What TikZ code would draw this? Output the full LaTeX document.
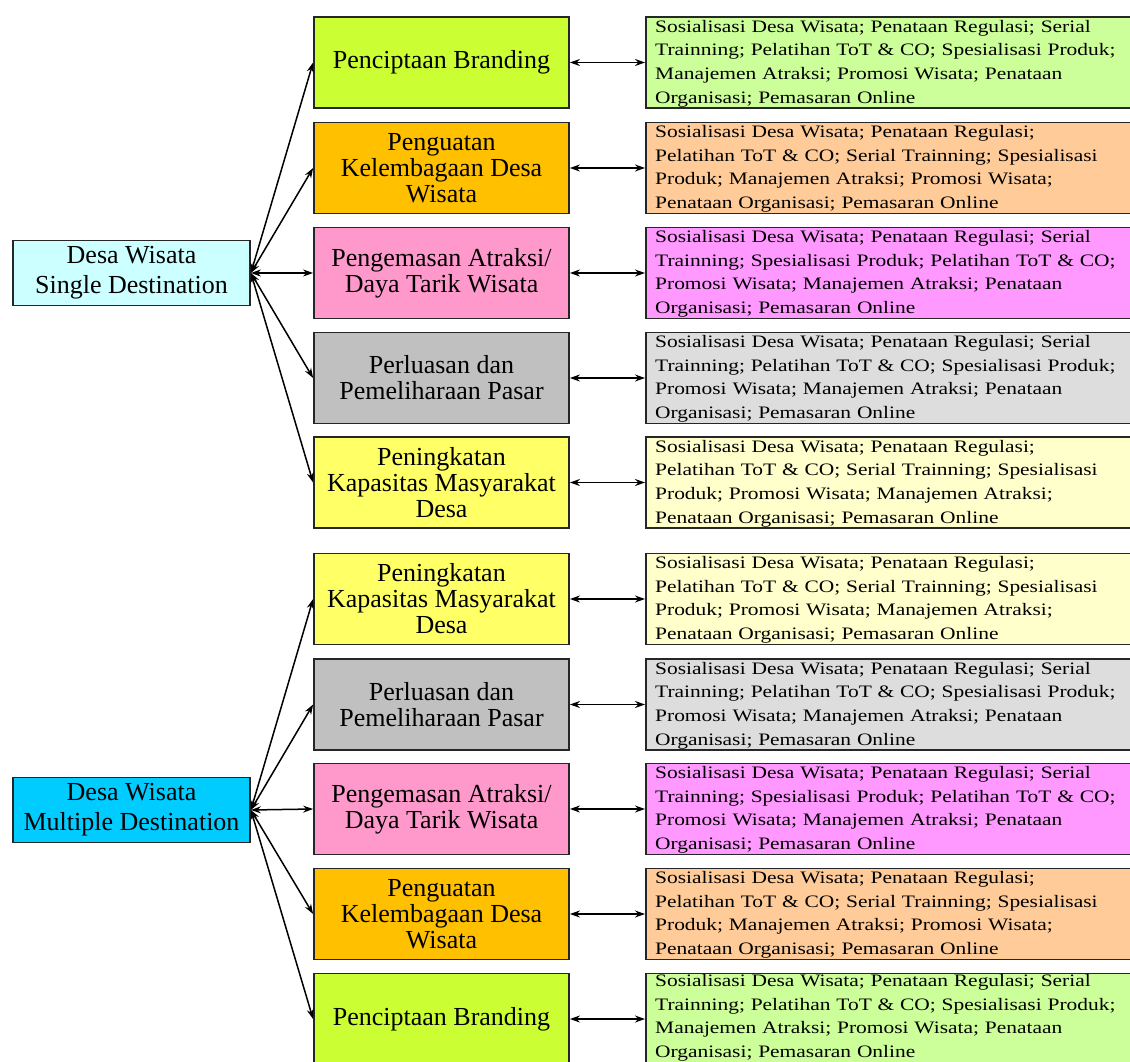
\documentclass[tikz,border=0pt]{standalone}
\usepackage{fontspec}
\setmainfont{Liberation Serif}
\newfontfamily\actfont[FakeStretch=1.225]{Liberation Serif}
\usetikzlibrary{arrows.meta}
\definecolor{brandM}{HTML}{CCFF33}
\definecolor{brandR}{HTML}{CCFF99}
\definecolor{kuatM}{HTML}{FFC000}
\definecolor{kuatR}{HTML}{FFCC99}
\definecolor{kemasM}{HTML}{FF99CC}
\definecolor{kemasR}{HTML}{FF99FF}
\definecolor{luasM}{HTML}{C0C0C0}
\definecolor{luasR}{HTML}{DDDDDD}
\definecolor{tingM}{HTML}{FFFF66}
\definecolor{tingR}{HTML}{FFFFCC}
\definecolor{singleC}{HTML}{CCFFFF}
\definecolor{multiC}{HTML}{00CCFF}
\begin{document}
\begin{tikzpicture}[x=1pt,y=-1pt,
  box/.style={draw=black!85, line width=1.8pt, inner sep=0pt},
  srcbox/.style={box, minimum width=237pt, minimum height=65pt, align=center,
    font=\fontsize{26}{30}\selectfont},
  midbox/.style={box, minimum width=255pt, minimum height=91pt, align=center,
    font=\fontsize{26}{26}\selectfont},
  actbox/.style={box, anchor=west, minimum width=495pt, minimum height=91pt},
  acttext/.style={anchor=west, xshift=10pt, yshift=-1pt, inner sep=0pt, text width=478pt,
    align=left, font=\actfont\fontsize{17.5}{23.6}\selectfont},
  link/.style={{Stealth[length=10pt,width=7pt]}-{Stealth[length=10pt,width=7pt]}, line width=1.5pt}
]
\useasboundingbox (0,0) rectangle (1130,1062);
\fill[white] (0,0) rectangle (1130,1062);

% sources
\node[srcbox, fill=singleC] (s1) at (131.5,273) {Desa Wisata\\Single Destination};
\node[srcbox, fill=multiC] (s2) at (131.5,810) {Desa Wisata\\Multiple Destination};

% top group middle boxes
\node[midbox, fill=brandM] (a1) at (441.5,62.5) {Penciptaan Branding};
\node[midbox, fill=kuatM] (a2) at (441.5,168) {Penguatan\\Kelembagaan Desa\\Wisata};
\node[midbox, fill=kemasM] (a3) at (441.5,273) {Pengemasan Atraksi/\\Daya Tarik Wisata};
\node[midbox, fill=luasM] (a4) at (441.5,378) {Perluasan dan\\Pemeliharaan Pasar};
\node[midbox, fill=tingM] (a5) at (441.5,482.5) {Peningkatan\\Kapasitas Masyarakat\\Desa};

% bottom group middle boxes
\node[midbox, fill=tingM] (b1) at (441.5,599) {Peningkatan\\Kapasitas Masyarakat\\Desa};
\node[midbox, fill=luasM] (b2) at (441.5,704.5) {Perluasan dan\\Pemeliharaan Pasar};
\node[midbox, fill=kemasM] (b3) at (441.5,809) {Pengemasan Atraksi/\\Daya Tarik Wisata};
\node[midbox, fill=kuatM] (b4) at (441.5,914) {Penguatan\\Kelembagaan Desa\\Wisata};
\node[midbox, fill=brandM] (b5) at (441.5,1019) {Penciptaan Branding};

% activity boxes
\node[actbox, fill=brandR] (ra1) at (645,62.5) {};
\node[actbox, fill=kuatR]  (ra2) at (645,168) {};
\node[actbox, fill=kemasR] (ra3) at (645,273) {};
\node[actbox, fill=luasR]  (ra4) at (645,378) {};
\node[actbox, fill=tingR]  (ra5) at (645,482.5) {};
\node[actbox, fill=tingR]  (rb1) at (645,599) {};
\node[actbox, fill=luasR]  (rb2) at (645,704.5) {};
\node[actbox, fill=kemasR] (rb3) at (645,809) {};
\node[actbox, fill=kuatR]  (rb4) at (645,914) {};
\node[actbox, fill=brandR] (rb5) at (645,1019) {};

% activity texts
\node[acttext] (ta1) at (ra1.west) {Sosialisasi Desa Wisata; Penataan Regulasi; Serial\\Trainning; Pelatihan ToT \& CO; Spesialisasi Produk;\\Manajemen Atraksi; Promosi Wisata; Penataan\\Organisasi; Pemasaran Online};
\node[acttext] (ta2) at (ra2.west) {Sosialisasi Desa Wisata; Penataan Regulasi;\\Pelatihan ToT \& CO; Serial Trainning; Spesialisasi\\Produk; Manajemen Atraksi; Promosi Wisata;\\Penataan Organisasi; Pemasaran Online};
\node[acttext] (ta3) at (ra3.west) {Sosialisasi Desa Wisata; Penataan Regulasi; Serial\\Trainning; Spesialisasi Produk; Pelatihan ToT \& CO;\\Promosi Wisata; Manajemen Atraksi; Penataan\\Organisasi; Pemasaran Online};
\node[acttext] (ta4) at (ra4.west) {Sosialisasi Desa Wisata; Penataan Regulasi; Serial\\Trainning; Pelatihan ToT \& CO; Spesialisasi Produk;\\Promosi Wisata; Manajemen Atraksi; Penataan\\Organisasi; Pemasaran Online};
\node[acttext] (ta5) at (ra5.west) {Sosialisasi Desa Wisata; Penataan Regulasi;\\Pelatihan ToT \& CO; Serial Trainning; Spesialisasi\\Produk; Promosi Wisata; Manajemen Atraksi;\\Penataan Organisasi; Pemasaran Online};
\node[acttext] (tb1) at (rb1.west) {Sosialisasi Desa Wisata; Penataan Regulasi;\\Pelatihan ToT \& CO; Serial Trainning; Spesialisasi\\Produk; Promosi Wisata; Manajemen Atraksi;\\Penataan Organisasi; Pemasaran Online};
\node[acttext] (tb2) at (rb2.west) {Sosialisasi Desa Wisata; Penataan Regulasi; Serial\\Trainning; Pelatihan ToT \& CO; Spesialisasi Produk;\\Promosi Wisata; Manajemen Atraksi; Penataan\\Organisasi; Pemasaran Online};
\node[acttext] (tb3) at (rb3.west) {Sosialisasi Desa Wisata; Penataan Regulasi; Serial\\Trainning; Spesialisasi Produk; Pelatihan ToT \& CO;\\Promosi Wisata; Manajemen Atraksi; Penataan\\Organisasi; Pemasaran Online};
\node[acttext] (tb4) at (rb4.west) {Sosialisasi Desa Wisata; Penataan Regulasi;\\Pelatihan ToT \& CO; Serial Trainning; Spesialisasi\\Produk; Manajemen Atraksi; Promosi Wisata;\\Penataan Organisasi; Pemasaran Online};
\node[acttext, yshift=2pt] (tb5) at (rb5.west) {Sosialisasi Desa Wisata; Penataan Regulasi; Serial\\Trainning; Pelatihan ToT \& CO; Spesialisasi Produk;\\Manajemen Atraksi; Promosi Wisata; Penataan\\Organisasi; Pemasaran Online};

% connectors source -> middle
\foreach \m in {a1,a2,a3,a4,a5} \draw[link] (s1.east) -- (\m.west);
\foreach \m in {b1,b2,b3,b4,b5} \draw[link] (s2.east) -- (\m.west);

% connectors middle <-> activities
\foreach \m/\r in {a1/ra1,a2/ra2,a3/ra3,a4/ra4,a5/ra5,b1/rb1,b2/rb2,b3/rb3,b4/rb4,b5/rb5}
  \draw[link] (\m.east) -- (\r.west);
\end{tikzpicture}
\end{document}
